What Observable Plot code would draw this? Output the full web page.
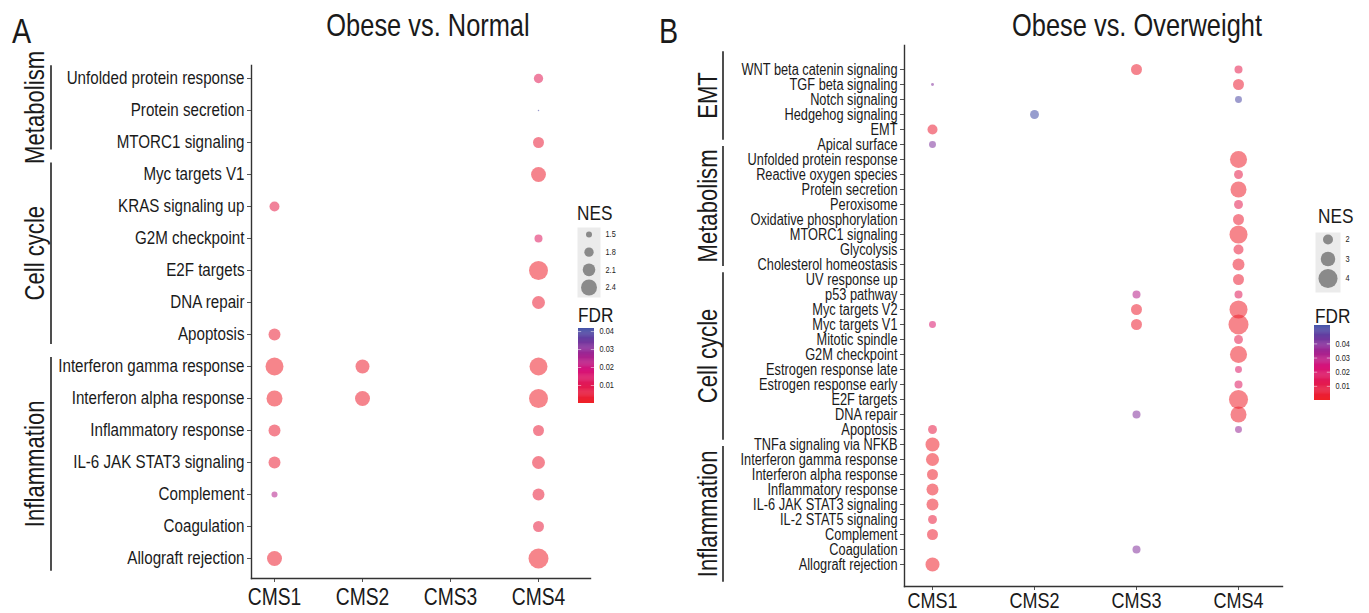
<!DOCTYPE html>
<html><head><meta charset="utf-8">
<script src="https://cdn.jsdelivr.net/npm/d3@7"></script>
<script src="https://cdn.jsdelivr.net/npm/@observablehq/plot@0.6"></script>
<style>
body{margin:0;background:#fff;}
#root{position:relative;width:1369px;height:613px;overflow:hidden;background:#fff;}
#root > *{position:absolute;}
</style></head><body><div id="root"></div>
<script>
// ---------------- DATA ----------------
const cmsLevels = ["CMS1","CMS2","CMS3","CMS4"];

// Panel A: Obese vs. Normal
const rowsA = ["Unfolded protein response","Protein secretion","MTORC1 signaling","Myc targets V1","KRAS signaling up","G2M checkpoint","E2F targets","DNA repair","Apoptosis","Interferon gamma response","Interferon alpha response","Inflammatory response","IL-6 JAK STAT3 signaling","Complement","Coagulation","Allograft rejection"];
const groupNamesA = ["Metabolism","Cell cycle","Inflammation"];
const groupSizesA = [3, 6, 7];
const ptPathA = ["Unfolded protein response","Protein secretion","MTORC1 signaling","Myc targets V1","KRAS signaling up","G2M checkpoint","E2F targets","DNA repair","Apoptosis","Interferon gamma response","Interferon gamma response","Interferon gamma response","Interferon alpha response","Interferon alpha response","Interferon alpha response","Inflammatory response","Inflammatory response","IL-6 JAK STAT3 signaling","IL-6 JAK STAT3 signaling","Complement","Complement","Coagulation","Allograft rejection","Allograft rejection"];
const ptCmsA  = ["CMS4","CMS4","CMS4","CMS4","CMS1","CMS4","CMS4","CMS4","CMS1","CMS1","CMS2","CMS4","CMS1","CMS2","CMS4","CMS1","CMS4","CMS1","CMS4","CMS1","CMS4","CMS4","CMS1","CMS4"];
const ptNesA  = [1.80,1.05,1.95,2.30,1.86,1.68,2.67,2.13,2.04,2.58,2.22,2.58,2.40,2.31,2.67,2.04,1.95,2.04,2.13,1.50,2.04,1.95,2.31,2.76];
const ptFdrA  = [0.010,0.040,0.004,0.002,0.007,0.012,0.001,0.003,0.003,0.001,0.002,0.001,0.001,0.002,0.001,0.003,0.004,0.003,0.003,0.024,0.004,0.005,0.002,0.001];
const nesTicksA = [1.5, 1.8, 2.1, 2.4];
const fdrTicksA = [0.01, 0.02, 0.03, 0.04];

// Panel B: Obese vs. Overweight
const rowsB = ["WNT beta catenin signaling","TGF beta signaling","Notch signaling","Hedgehog signaling","EMT","Apical surface","Unfolded protein response","Reactive oxygen species","Protein secretion","Peroxisome","Oxidative phosphorylation","MTORC1 signaling","Glycolysis","Cholesterol homeostasis","UV response up","p53 pathway","Myc targets V2","Myc targets V1","Mitotic spindle","G2M checkpoint","Estrogen response late","Estrogen response early","E2F targets","DNA repair","Apoptosis","TNFa signaling via NFKB","Interferon gamma response","Interferon alpha response","Inflammatory response","IL-6 JAK STAT3 signaling","IL-2 STAT5 signaling","Complement","Coagulation","Allograft rejection"];
const groupNamesB = ["EMT","Metabolism","Cell cycle","Inflammation"];
const groupSizesB = [6, 8, 11, 9];
const ptPathB = ["WNT beta catenin signaling","WNT beta catenin signaling","TGF beta signaling","TGF beta signaling","Notch signaling","Hedgehog signaling","EMT","Apical surface","Unfolded protein response","Reactive oxygen species","Protein secretion","Peroxisome","Oxidative phosphorylation","MTORC1 signaling","Glycolysis","Cholesterol homeostasis","UV response up","p53 pathway","p53 pathway","Myc targets V2","Myc targets V2","Myc targets V1","Myc targets V1","Myc targets V1","Mitotic spindle","G2M checkpoint","Estrogen response late","Estrogen response early","E2F targets","DNA repair","DNA repair","Apoptosis","Apoptosis","TNFa signaling via NFKB","Interferon gamma response","Interferon alpha response","Inflammatory response","IL-6 JAK STAT3 signaling","IL-2 STAT5 signaling","Complement","Coagulation","Allograft rejection"];
const ptCmsB  = ["CMS3","CMS4","CMS1","CMS4","CMS4","CMS2","CMS1","CMS1","CMS4","CMS4","CMS4","CMS4","CMS4","CMS4","CMS4","CMS4","CMS4","CMS3","CMS4","CMS3","CMS4","CMS1","CMS3","CMS4","CMS4","CMS4","CMS4","CMS4","CMS4","CMS3","CMS4","CMS1","CMS4","CMS1","CMS1","CMS1","CMS1","CMS1","CMS1","CMS1","CMS3","CMS1"];
const ptNesB  = [2.22,1.75,1.12,2.22,1.62,1.87,2.00,1.62,3.56,1.87,3.33,1.87,2.22,3.78,2.00,2.44,2.22,1.75,1.75,2.22,3.78,1.62,2.22,4.22,1.87,3.56,1.62,1.75,4.00,1.75,3.33,1.87,1.62,2.89,2.67,2.22,2.44,2.44,1.87,2.22,1.75,2.89];
const ptFdrB  = [0.003,0.010,0.040,0.004,0.050,0.052,0.004,0.041,0.002,0.009,0.002,0.011,0.004,0.001,0.006,0.003,0.004,0.030,0.014,0.003,0.001,0.020,0.003,0.001,0.010,0.001,0.018,0.016,0.001,0.040,0.002,0.008,0.036,0.001,0.001,0.002,0.002,0.002,0.006,0.003,0.040,0.001];
const nesTicksB = [2, 3, 4];
const fdrTicksB = [0.01, 0.02, 0.03, 0.04];

// ---------------- HELPERS ----------------
function hasFont(name){
  const c = document.createElement("canvas").getContext("2d");
  c.font = "72px monospace"; const w0 = c.measureText("CMS1 Unfolded response").width;
  c.font = `72px "${name}", monospace`; const w1 = c.measureText("CMS1 Unfolded response").width;
  return Math.abs(w0 - w1) > 0.5;
}
const narrow = hasFont("Liberation Sans Narrow");
const FONT = narrow ? '"Liberation Sans Narrow", "Arial Narrow", sans-serif' : '"Liberation Sans", Arial, sans-serif';
const K = 0.82; // horizontal condensing applied when no narrow face is installed
const INK = "#1a1a1a";

function condense(node){
  if (narrow) return node;
  node.querySelectorAll("text").forEach(el => {
    let t = el.getAttribute("transform") || "";
    const x = el.getAttribute("x");
    if (x != null && /^-?[\d.]+$/.test(x.trim())) {
      t = `${t} translate(${+x},0)`;
      el.removeAttribute("x");
    }
    el.setAttribute("transform", (t + ` scale(${K},1)`).trim());
  });
  return node;
}

const toTable = (p, c, n, f) => p.map((d, i) => ({pathway: d, cms: c[i], nes: n[i], fdr: f[i]}));
const dataA = toTable(ptPathA, ptCmsA, ptNesA, ptFdrA);
const dataB = toTable(ptPathB, ptCmsB, ptNesB, ptFdrB);

const colorRange = ["#EF2127", "#D6137B", "#8E2C9A", "#3D4FA6"];
const colorA = {type: "linear", domain: [0, 0.0185, 0.030, 0.0417], range: colorRange, clamp: true};
const colorB = {type: "linear", domain: [0, 0.024, 0.038, 0.053], range: colorRange, clamp: true};
const rA = {type: "linear", domain: [1, 1.5, 2.8], range: [0.5, 3, 10.2]};
const rB = {type: "linear", domain: [1, 2, 4.3], range: [1, 5, 10.2]};

const root = document.getElementById("root");
function place(el, left, top){ condense(el); el.style.left = left + "px"; el.style.top = top + "px"; root.appendChild(el); }

function panel({rows, data, width, mL, mR, mT, mB, xr, yr, r, color, yFont, xFont, xPad}){
  return Plot.plot({
    width, height: 613, marginLeft: mL, marginRight: mR, marginTop: mT, marginBottom: mB,
    style: {fontFamily: FONT, color: INK, background: "transparent", overflow: "visible"},
    x: {type: "point", domain: cmsLevels, range: xr, padding: 0, label: null},
    y: {type: "point", domain: rows, range: yr, padding: 0, label: null},
    r, color,
    marks: [
      Plot.axisY({tickSize: 4, tickPadding: 3, fontSize: yFont, stroke: "#555", fill: INK, label: null}),
      Plot.axisX({tickSize: 4, tickPadding: xPad, fontSize: xFont, stroke: "#555", fill: INK, label: null}),
      Plot.frame({anchor: "left", stroke: "#333", strokeWidth: 1.4}),
      Plot.frame({anchor: "bottom", stroke: "#333", strokeWidth: 1.4}),
      Plot.dot(data, {x: "cms", y: "pathway", r: "nes", fill: "fdr", fillOpacity: 0.55, stroke: null})
    ]
  });
}

// Panel A (svg placed at page x=0)
const yrA = [75, 561];
place(panel({rows: rowsA, data: dataA, width: 650, mL: 251, mR: 60, mT: 65, mB: 35,
  xr: [274, 538], yr: yrA, r: rA, color: colorA, yFont: 18.5, xFont: 23.5, xPad: 6}), 0, 0);
// Panel B (svg placed at page x=650)
const offB = 650;
const yrB = [56, 577];
place(panel({rows: rowsB, data: dataB, width: 719, mL: 904 - offB, mR: 719 - (1282 - offB), mT: 45, mB: 27,
  xr: [931 - offB, 1239 - offB], yr: yrB, r: rB, color: colorB, yFont: 15.6, xFont: 22, xPad: 2}), offB, 0);

// Size legends
function sizeLegend({ticks, r, w, h, mL, mR, mT, mB, yr}){
  return Plot.plot({
    width: w, height: h, marginLeft: mL, marginRight: mR, marginTop: mT, marginBottom: mB,
    style: {fontFamily: FONT, color: INK, background: "transparent", overflow: "visible"},
    x: {axis: null}, y: {type: "linear", domain: d3.extent(ticks), range: yr, axis: null}, r,
    marks: [
      Plot.frame({fill: "#ebebeb", stroke: null}),
      Plot.dot(ticks, {y: d => d, r: d => d, fill: "#7f7f7f", fillOpacity: 0.9, frameAnchor: "middle"}),
      Plot.text(ticks, {y: d => d, text: d => String(d), frameAnchor: "right", dx: 5, textAnchor: "start", fontSize: 9, fill: INK})
    ]
  });
}
place(sizeLegend({ticks: nesTicksA, r: rA, w: 60, h: 82, mL: 7, mR: 30, mT: 5, mB: 7, yr: [12, 65]}), 570, 222);
place(sizeLegend({ticks: nesTicksB, r: rB, w: 64, h: 72, mL: 10, mR: 29, mT: 6, mB: 6, yr: [13, 52]}), 1305, 226);

// Colour bars
function colorBar({color, top, ticks, w, h, mL, mR, mT, mB}){
  const n = 80, step = top / n;
  const idx = d3.range(n);
  return Plot.plot({
    width: w, height: h, marginLeft: mL, marginRight: mR, marginTop: mT, marginBottom: mB,
    style: {fontFamily: FONT, color: INK, background: "transparent", overflow: "visible"},
    x: {domain: [0, 1], axis: null}, y: {domain: [0, top], axis: null}, color,
    marks: [
      Plot.rect(idx, {x1: 0, x2: 1, y1: i => i * step, y2: i => Math.min(top, (i + 1.4) * step), fill: i => (i + 0.5) * step}),
      Plot.ruleY(ticks, {x1: 0, x2: 0.2, stroke: "white", strokeOpacity: 0.5}),
      Plot.ruleY(ticks, {x1: 0.8, x2: 1, stroke: "white", strokeOpacity: 0.5}),
      Plot.axisY({anchor: "right", ticks, tickSize: 0, tickPadding: 5, tickFormat: d3.format(".2f"), fontSize: 9, fill: INK, label: null})
    ]
  });
}
place(colorBar({color: colorA, top: 0.0417, ticks: fdrTicksA, w: 60, h: 90, mL: 8, mR: 36, mT: 8, mB: 7}), 570, 320);
place(colorBar({color: colorB, top: 0.053, ticks: fdrTicksB, w: 60, h: 88, mL: 9, mR: 35, mT: 7, mB: 6}), 1305, 318);

// Overlay: titles, panel letters, group brackets and labels, legend titles
const svg = d3.create("svg").attr("width", 1369).attr("height", 613)
  .style("font-family", FONT).style("pointer-events", "none").style("left", "0px").style("top", "0px");
const txt = (x, y, s, size, anchor = "start") => svg.append("text").attr("x", x).attr("y", y)
  .attr("font-size", size).attr("fill", INK).attr("text-anchor", anchor).text(s);

txt(12, 43, "A", 35);
txt(659, 43, "B", 35);
txt(428, 36, "Obese vs. Normal", 31, "middle");
txt(1137, 36, "Obese vs. Overweight", 31, "middle");
txt(577, 220, "NES", 21);
txt(578, 322, "FDR", 21);
txt(1318, 223, "NES", 21);
txt(1315, 323, "FDR", 21);

function groups(names, sizes, rows, yr, xLine, xText){
  const y = d3.scalePoint().domain(rows).range(yr);
  const step = y.step();
  let start = 0;
  names.forEach((g, i) => {
    const first = rows[start], last = rows[start + sizes[i] - 1];
    const y1 = y(first) - 0.3 * step, y2 = y(last) + 0.3 * step;
    svg.append("line").attr("x1", xLine).attr("x2", xLine).attr("y1", y1).attr("y2", y2)
      .attr("stroke", "#222").attr("stroke-width", 1.6);
    svg.append("text").attr("transform", `translate(${xText},${(y(first) + y(last)) / 2}) rotate(-90)`)
      .attr("text-anchor", "middle").attr("font-size", 27).attr("fill", INK).text(g);
    start += sizes[i];
  });
}
groups(groupNamesA, groupSizesA, rowsA, yrA, 51, 44);
groups(groupNamesB, groupSizesB, rowsB, yrB, 723, 717);
place(svg.node(), 0, 0);
</script></body></html>
